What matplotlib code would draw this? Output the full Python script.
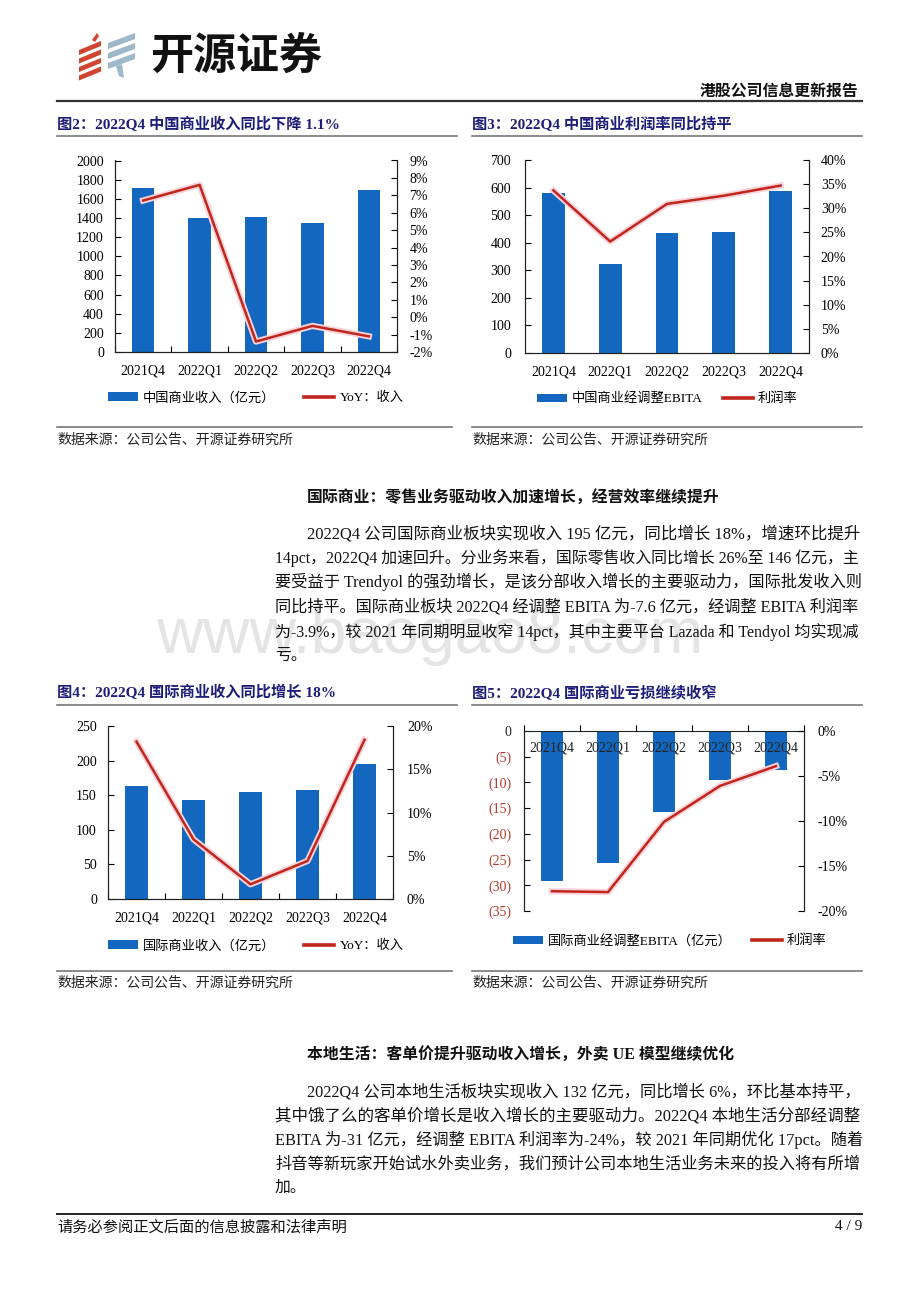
import matplotlib
matplotlib.use('Agg')
import matplotlib.pyplot as plt
import numpy as np
from matplotlib.patches import Polygon, Patch
from matplotlib.lines import Line2D
from matplotlib.font_manager import FontProperties
import matplotlib.patheffects as pe

# ---------------- data ----------------
quarters = ['2021Q4', '2022Q1', '2022Q2', '2022Q3', '2022Q4']
cn_revenue = [1718, 1397, 1415, 1352, 1693]          # 亿元
cn_revenue_yoy = [6.7, 7.6, -1.4, -0.5, -1.1]        # %
cn_ebita = [579, 322, 436, 439, 588]                 # 亿元
cn_margin = [33.7, 23.1, 30.9, 32.6, 34.7]           # %
intl_revenue = [164, 143, 154, 157, 195]             # 亿元
intl_revenue_yoy = [18.2, 6.9, 1.7, 4.4, 18.4]       # %
intl_ebita = [-29.2, -25.7, -15.7, -9.6, -7.6]       # 亿元
intl_margin = [-17.8, -17.9, -10.1, -6.1, -3.9]      # %

# ---------------- setup ----------------
W, H = 920, 1302
MIX = ['Liberation Serif', 'Noto Sans CJK SC', 'DejaVu Sans']
plt.rcParams['font.family'] = MIX
plt.rcParams['axes.unicode_minus'] = False

BAR = '#1467BE'
LINE = '#C0261C'
NAVY = '#1E1E78'
RED_TICK = '#B5382C'

fig = plt.figure(figsize=(W / 100, H / 100), dpi=100)
renderer = fig.canvas.get_renderer()


def fx(x):
    return x / W


def fy(y):
    return 1 - y / H


def add_ax(l, t, r, b):
    return fig.add_axes([fx(l), fy(b), (r - l) / W, (b - t) / H])


def ftext(x, y, s, **kw):
    kw.setdefault('va', 'center')
    return fig.text(fx(x), fy(y), s, **kw)


def hline(x0, x1, y, lw=1.0, color='#555555'):
    fig.add_artist(Line2D([fx(x0), fx(x1)], [fy(y), fy(y)], lw=lw, color=color,
                          transform=fig.transFigure))


def para(x, y, s, right=None, size=11.4, **kw):
    t = ftext(x, y, s, fontsize=size, ha='left', zorder=3, **kw)
    if right is not None:
        w = t.get_window_extent(renderer).width
        f = (right - x) / w
        f = min(max(f, 0.9), 1.1)
        t.set_fontsize(size * f)
    return t


halo = [pe.Stroke(linewidth=4.5, foreground='#FAD3DA'), pe.Normal()]


def style_common(ax, ax2, lpad, rpad):
    for s in ['top']:
        ax.spines[s].set_visible(False)
        ax2.spines[s].set_visible(False)
    for a in (ax, ax2):
        for s in a.spines.values():
            s.set_linewidth(0.8)
            s.set_color('#222222')
    ax.tick_params(axis='y', direction='in', length=4, width=0.8, labelsize=10, pad=lpad)
    ax2.tick_params(axis='y', direction='in', length=4, width=0.8, labelsize=10, pad=rpad)


def legend(ax, labels, x_left, y, colspace):
    prop = FontProperties(family=MIX, size=9.5)
    handles = [Patch(facecolor=BAR, edgecolor='none'), Line2D([], [], color=LINE, lw=2.6)]
    ax.legend(handles, labels, loc='center left', bbox_to_anchor=(fx(x_left), fy(y)),
              bbox_transform=fig.transFigure, ncol=2, frameon=False, prop=prop,
              handlelength=2.27, handleheight=0.6, handletextpad=0.38,
              columnspacing=colspace, borderpad=0, borderaxespad=0)


x = np.arange(len(quarters))

# ---------------- logo & header ----------------
for i in range(4):
    y0 = 41 + 8.5 * i
    fig.add_artist(Polygon([(fx(79), fy(y0 + 9)), (fx(101), fy(y0)), (fx(101), fy(y0 + 5)),
                            (fx(79), fy(y0 + 14))], closed=True, facecolor='#D0452F',
                           edgecolor='none', transform=fig.transFigure))
fig.add_artist(Polygon([(fx(92), fy(40)), (fx(97), fy(33)), (fx(99), fy(36)), (fx(95), fy(42))],
                       closed=True, facecolor='#D0452F', edgecolor='none', transform=fig.transFigure))
for i in range(3):
    y0 = 33 + 10 * i
    fig.add_artist(Polygon([(fx(108), fy(y0 + 10)), (fx(135), fy(y0)), (fx(135), fy(y0 + 6)),
                            (fx(108), fy(y0 + 16))], closed=True, facecolor='#9DB8C9',
                           edgecolor='none', transform=fig.transFigure))
fig.add_artist(Polygon([(fx(116), fy(66)), (fx(122), fy(64)), (fx(124), fy(78)), (fx(119), fy(76))],
                       closed=True, facecolor='#9DB8C9', edgecolor='none', transform=fig.transFigure))
ftext(150, 56, '开源证券', fontsize=31, weight='heavy', family='Noto Sans CJK SC', color='#111111')
ftext(858, 93, '港股公司信息更新报告', fontsize=11.4, weight='bold', ha='right', color='#111111')
hline(57, 862, 101, lw=1.6, color='#333333')

# ---------------- titles row 1 ----------------
ftext(57, 125, '图2：2022Q4 中国商业收入同比下降 1.1%', fontsize=11, weight='bold', color=NAVY)
ftext(472, 125, '图3：2022Q4 中国商业利润率同比持平', fontsize=11, weight='bold', color=NAVY)
hline(57, 457, 136, lw=1.2, color='#777777')
hline(472, 862, 136, lw=1.2, color='#777777')

# ---------------- chart: 图2 ----------------
ax = add_ax(115, 160.5, 397, 352)
ax2 = ax.twinx()
ax.bar(x, cn_revenue, width=0.4, color=BAR, zorder=2)
ax2.plot(x, cn_revenue_yoy, color=LINE, lw=1.8, path_effects=halo)
ax.set_xlim(-0.5, 4.5)
ax.set_ylim(0, 2000)
ax.set_yticks(np.arange(0, 2001, 200))
ax2.set_ylim(-2, 9)
ax2.set_yticks(np.arange(-2, 10, 1), [f'{v}%' for v in range(-2, 10)])
ax.set_xticks(x, quarters)
ax.set_xticks(np.arange(-0.5, 5, 1), minor=True)
ax.tick_params(axis='x', which='major', length=0, labelsize=10, pad=9)
ax.tick_params(axis='x', which='minor', direction='in', length=4, width=0.8)
style_common(ax, ax2, 8, 9)
legend(ax2, ['中国商业收入（亿元）', 'YoY：收入'], 108, 398, 2.2)
hline(57, 452, 427, lw=1.2, color='#777777')
ftext(57, 440, '数据来源：公司公告、开源证券研究所', fontsize=10, color='#222222')

# ---------------- chart: 图3 ----------------
ax = add_ax(525, 160, 809, 353)
ax2 = ax.twinx()
ax.bar(x, cn_ebita, width=0.4, color=BAR, zorder=2)
ax2.plot(x, cn_margin, color=LINE, lw=1.8, path_effects=halo)
ax.set_xlim(-0.5, 4.5)
ax.set_ylim(0, 700)
ax.set_yticks(np.arange(0, 701, 100))
ax2.set_ylim(0, 40)
ax2.set_yticks(np.arange(0, 41, 5), [f'{v}%' for v in range(0, 41, 5)])
ax.set_xticks(x, quarters)
ax.tick_params(axis='x', which='major', length=0, labelsize=10, pad=9)
style_common(ax, ax2, 10, 8.5)
legend(ax2, ['中国商业经调整EBITA', '利润率'], 537, 399, 1.5)
hline(472, 862, 427, lw=1.2, color='#777777')
ftext(472, 440, '数据来源：公司公告、开源证券研究所', fontsize=10, color='#222222')

# ---------------- text section 1 ----------------
wm = ftext(430, 636, 'www.baogao8.com', fontsize=40, ha='center',
           family=['Liberation Sans Narrow', 'Liberation Sans', 'DejaVu Sans'],
           color='#E4E4E4', zorder=1)
wm_w = wm.get_window_extent(renderer).width
wm.set_fontsize(40 * 548 / wm_w)

ftext(307, 499, '国际商业：零售业务驱动收入加速增长，经营效率继续提升', fontsize=11.4,
      weight='bold', color='#111111')
sec1 = [
    (307, 534, '2022Q4 公司国际商业板块实现收入 195 亿元，同比增长 18%，增速环比提升', True),
    (275, 558, '14pct，2022Q4 加速回升。分业务来看，国际零售收入同比增长 26%至 146 亿元，主', True),
    (275, 582, '要受益于 Trendyol 的强劲增长，是该分部收入增长的主要驱动力，国际批发收入则', True),
    (275, 607, '同比持平。国际商业板块 2022Q4 经调整 EBITA 为-7.6 亿元，经调整 EBITA 利润率', True),
    (275, 632, '为-3.9%，较 2021 年同期明显收窄 14pct，其中主要平台 Lazada 和 Tendyol 均实现减', True),
    (275, 656, '亏。', False),
]
for xx, yy, s, just in sec1:
    para(xx, yy, s, right=862 if just else None, color='#111111')

# ---------------- titles row 2 ----------------
ftext(57, 693, '图4：2022Q4 国际商业收入同比增长 18%', fontsize=11, weight='bold', color=NAVY)
ftext(472, 693, '图5：2022Q4 国际商业亏损继续收窄', fontsize=11, weight='bold', color=NAVY)
hline(57, 457, 705, lw=1.2, color='#777777')
hline(472, 862, 705, lw=1.2, color='#777777')

# ---------------- chart: 图4 ----------------
ax = add_ax(108, 726, 393, 899)
ax2 = ax.twinx()
ax.bar(x, intl_revenue, width=0.4, color=BAR, zorder=2)
ax2.plot(x, intl_revenue_yoy, color=LINE, lw=1.8, path_effects=halo)
ax.set_xlim(-0.5, 4.5)
ax.set_ylim(0, 250)
ax.set_yticks(np.arange(0, 251, 50))
ax2.set_ylim(0, 20)
ax2.set_yticks(np.arange(0, 21, 5), [f'{v}%' for v in range(0, 21, 5)])
ax.set_xticks(x, quarters)
ax.set_xticks(np.arange(-0.5, 5, 1), minor=True)
ax.tick_params(axis='x', which='major', length=0, labelsize=10, pad=9)
ax.tick_params(axis='x', which='minor', direction='in', length=4, width=0.8)
style_common(ax, ax2, 8, 10)
legend(ax2, ['国际商业收入（亿元）', 'YoY：收入'], 108, 946, 2.2)
hline(57, 452, 971, lw=1.2, color='#777777')
ftext(57, 983, '数据来源：公司公告、开源证券研究所', fontsize=10, color='#222222')

# ---------------- chart: 图5 ----------------
ax = add_ax(524, 731, 804, 911)
ax2 = ax.twinx()
ax.bar(x, intl_ebita, width=0.4, color=BAR, zorder=2)
ax2.plot(x, intl_margin, color=LINE, lw=1.8, path_effects=halo)
ax.set_xlim(-0.5, 4.5)
ax.set_ylim(-35, 0)
lt = list(range(0, -36, -5))
ax.set_yticks(lt, ['0' if v == 0 else f'({-v})' for v in lt])
for lab, v in zip(ax.get_yticklabels(), lt):
    lab.set_color('#222222' if v == 0 else RED_TICK)
ax2.set_ylim(-20, 0)
rt = list(range(0, -21, -5))
ax2.set_yticks(rt, [f'{v}%' for v in rt])
for a in (ax, ax2):
    for s in a.spines.values():
        s.set_linewidth(0.8)
        s.set_color('#222222')
    a.spines['bottom'].set_visible(False)
ax2.spines['top'].set_visible(False)
ax.tick_params(axis='y', direction='in', length=4, width=0.8, labelsize=10, pad=9)
ax2.tick_params(axis='y', direction='in', length=4, width=0.8, labelsize=10, pad=9.5)
ax.xaxis.set_ticks_position('top')
ax.set_xticks(np.arange(-0.5, 5, 1), [''] * 6)
ax.tick_params(axis='x', direction='out', length=4, width=0.8)
for xi, q in zip(x, quarters):
    ax.text(xi, -3.3, q, ha='center', va='center', fontsize=10, color='#222222', zorder=5)
legend(ax2, ['国际商业经调整EBITA（亿元）', '利润率'], 513, 941, 1.5)
hline(472, 862, 971, lw=1.2, color='#777777')
ftext(472, 983, '数据来源：公司公告、开源证券研究所', fontsize=10, color='#222222')

# ---------------- text section 2 ----------------
ftext(307, 1056, '本地生活：客单价提升驱动收入增长，外卖 UE 模型继续优化', fontsize=11.4,
      weight='bold', color='#111111')
sec2 = [
    (307, 1092, '2022Q4 公司本地生活板块实现收入 132 亿元，同比增长 6%，环比基本持平，', True),
    (275, 1116, '其中饿了么的客单价增长是收入增长的主要驱动力。2022Q4 本地生活分部经调整', True),
    (275, 1140, 'EBITA 为-31 亿元，经调整 EBITA 利润率为-24%，较 2021 年同期优化 17pct。随着', True),
    (275, 1164, '抖音等新玩家开始试水外卖业务，我们预计公司本地生活业务未来的投入将有所增', True),
    (275, 1188, '加。', False),
]
for xx, yy, s, just in sec2:
    para(xx, yy, s, right=862 if just else None, color='#111111')

# ---------------- footer ----------------
hline(57, 862, 1214, lw=1.4, color='#222222')
ftext(57, 1227, '请务必参阅正文后面的信息披露和法律声明', fontsize=11, color='#111111')
ftext(862, 1227, '4 / 9', fontsize=11, ha='right', color='#111111')

fig.savefig('out.png', dpi=100)
